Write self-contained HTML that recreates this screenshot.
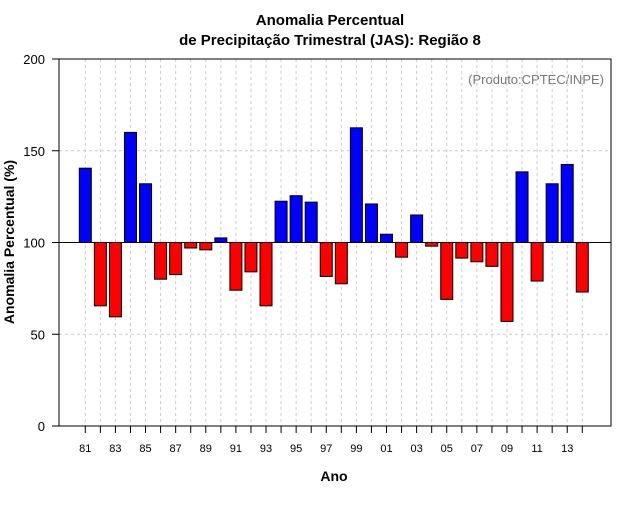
<!DOCTYPE html>
<html><head><meta charset="utf-8"><style>
body{margin:0;background:#fff}
svg text{font-family:"Liberation Sans",sans-serif}
</style></head><body>
<svg id="c" width="640" height="500" xmlns="http://www.w3.org/2000/svg">
<rect width="640" height="500" fill="#fff"/>
<text x="330" y="25" text-anchor="middle" font-size="15" font-weight="bold">Anomalia Percentual</text>
<text x="330" y="45" text-anchor="middle" font-size="15" font-weight="bold">de Precipitação Trimestral (JAS): Região 8</text>
<text x="604" y="84" text-anchor="end" font-size="13" fill="#777">(Produto:CPTEC/INPE)</text>
<text x="334" y="481" text-anchor="middle" font-size="14" font-weight="bold">Ano</text>
<text transform="translate(14,242) rotate(-90)" text-anchor="middle" font-size="14" font-weight="bold">Anomalia Percentual (%)</text>
<g id="grid"></g><g id="bars"></g><g id="axes"></g>
</svg>
<script>
const years=["81","82","83","84","85","86","87","88","89","90","91","92","93","94","95","96","97","98","99","00","01","02","03","04","05","06","07","08","09","10","11","12","13","14"];
const values=[140.5,65.5,59.5,160,132,80,82.5,97,96,102.5,74,84,65.5,122.5,125.5,122,81.5,77.5,162.5,121,104.5,92,115,98,69,91.5,89.5,87,57,138.5,79,132,142.5,73];
const yTicks=[0,50,100,150,200];
const NS="http://www.w3.org/2000/svg";
const L=59,R=611,T=59,B=426;
const y=v=>B-(v/200)*(B-T);
const x=i=>85.3+i*15.06;
function mk(tag,a,p){const e=document.createElementNS(NS,tag);for(const k in a)e.setAttribute(k,a[k]);p.appendChild(e);return e;}
const g=document.getElementById('grid'),bg=document.getElementById('bars'),ax=document.getElementById('axes');
years.forEach((yr,i)=>{
 const l=mk('line',{x1:x(i),x2:x(i),y1:T,y2:B,stroke:'#ccc','stroke-dasharray':'3,3'},g);
 
 
});
[50,100,150].forEach(v=>{
 const l=mk('line',{x1:L,x2:R,y1:y(v),y2:y(v),stroke:'#ccc','stroke-dasharray':'3,3'},g);
 
 
});
values.forEach((v,i)=>{
 const top=Math.min(y(v),y(100)),h=Math.abs(y(v)-y(100));
 const r=mk('rect',{x:x(i)-6,y:top,width:12,height:h,fill:v>=100?'#0000ff':'#ff0000',stroke:'#000','stroke-width':1},bg);
 
 
});
const base=mk('line',{x1:L,x2:R,y1:y(100),y2:y(100),stroke:'#000'},ax);


const box=mk('rect',{x:L,y:T,width:R-L,height:B-T,fill:'none',stroke:'#000'},ax);


yTicks.forEach(v=>{
 const t=mk('line',{x1:L-7,x2:L,y1:y(v),y2:y(v),stroke:'#000'},ax);
 
 
 const tx=mk('text',{x:L-14,y:y(v)+5,'text-anchor':'end','font-size':'13'},ax);
 tx.textContent=v;
 
 
});
years.forEach((yr,i)=>{
 const t=mk('line',{x1:x(i),x2:x(i),y1:B,y2:B+7,stroke:'#000'},ax);
 
 
 if(i%2===0){
  const tx=mk('text',{x:x(i),y:452,'text-anchor':'middle','font-size':'11'},ax);
  tx.textContent=yr;
  
  
 }
});
</script>
</body></html>
